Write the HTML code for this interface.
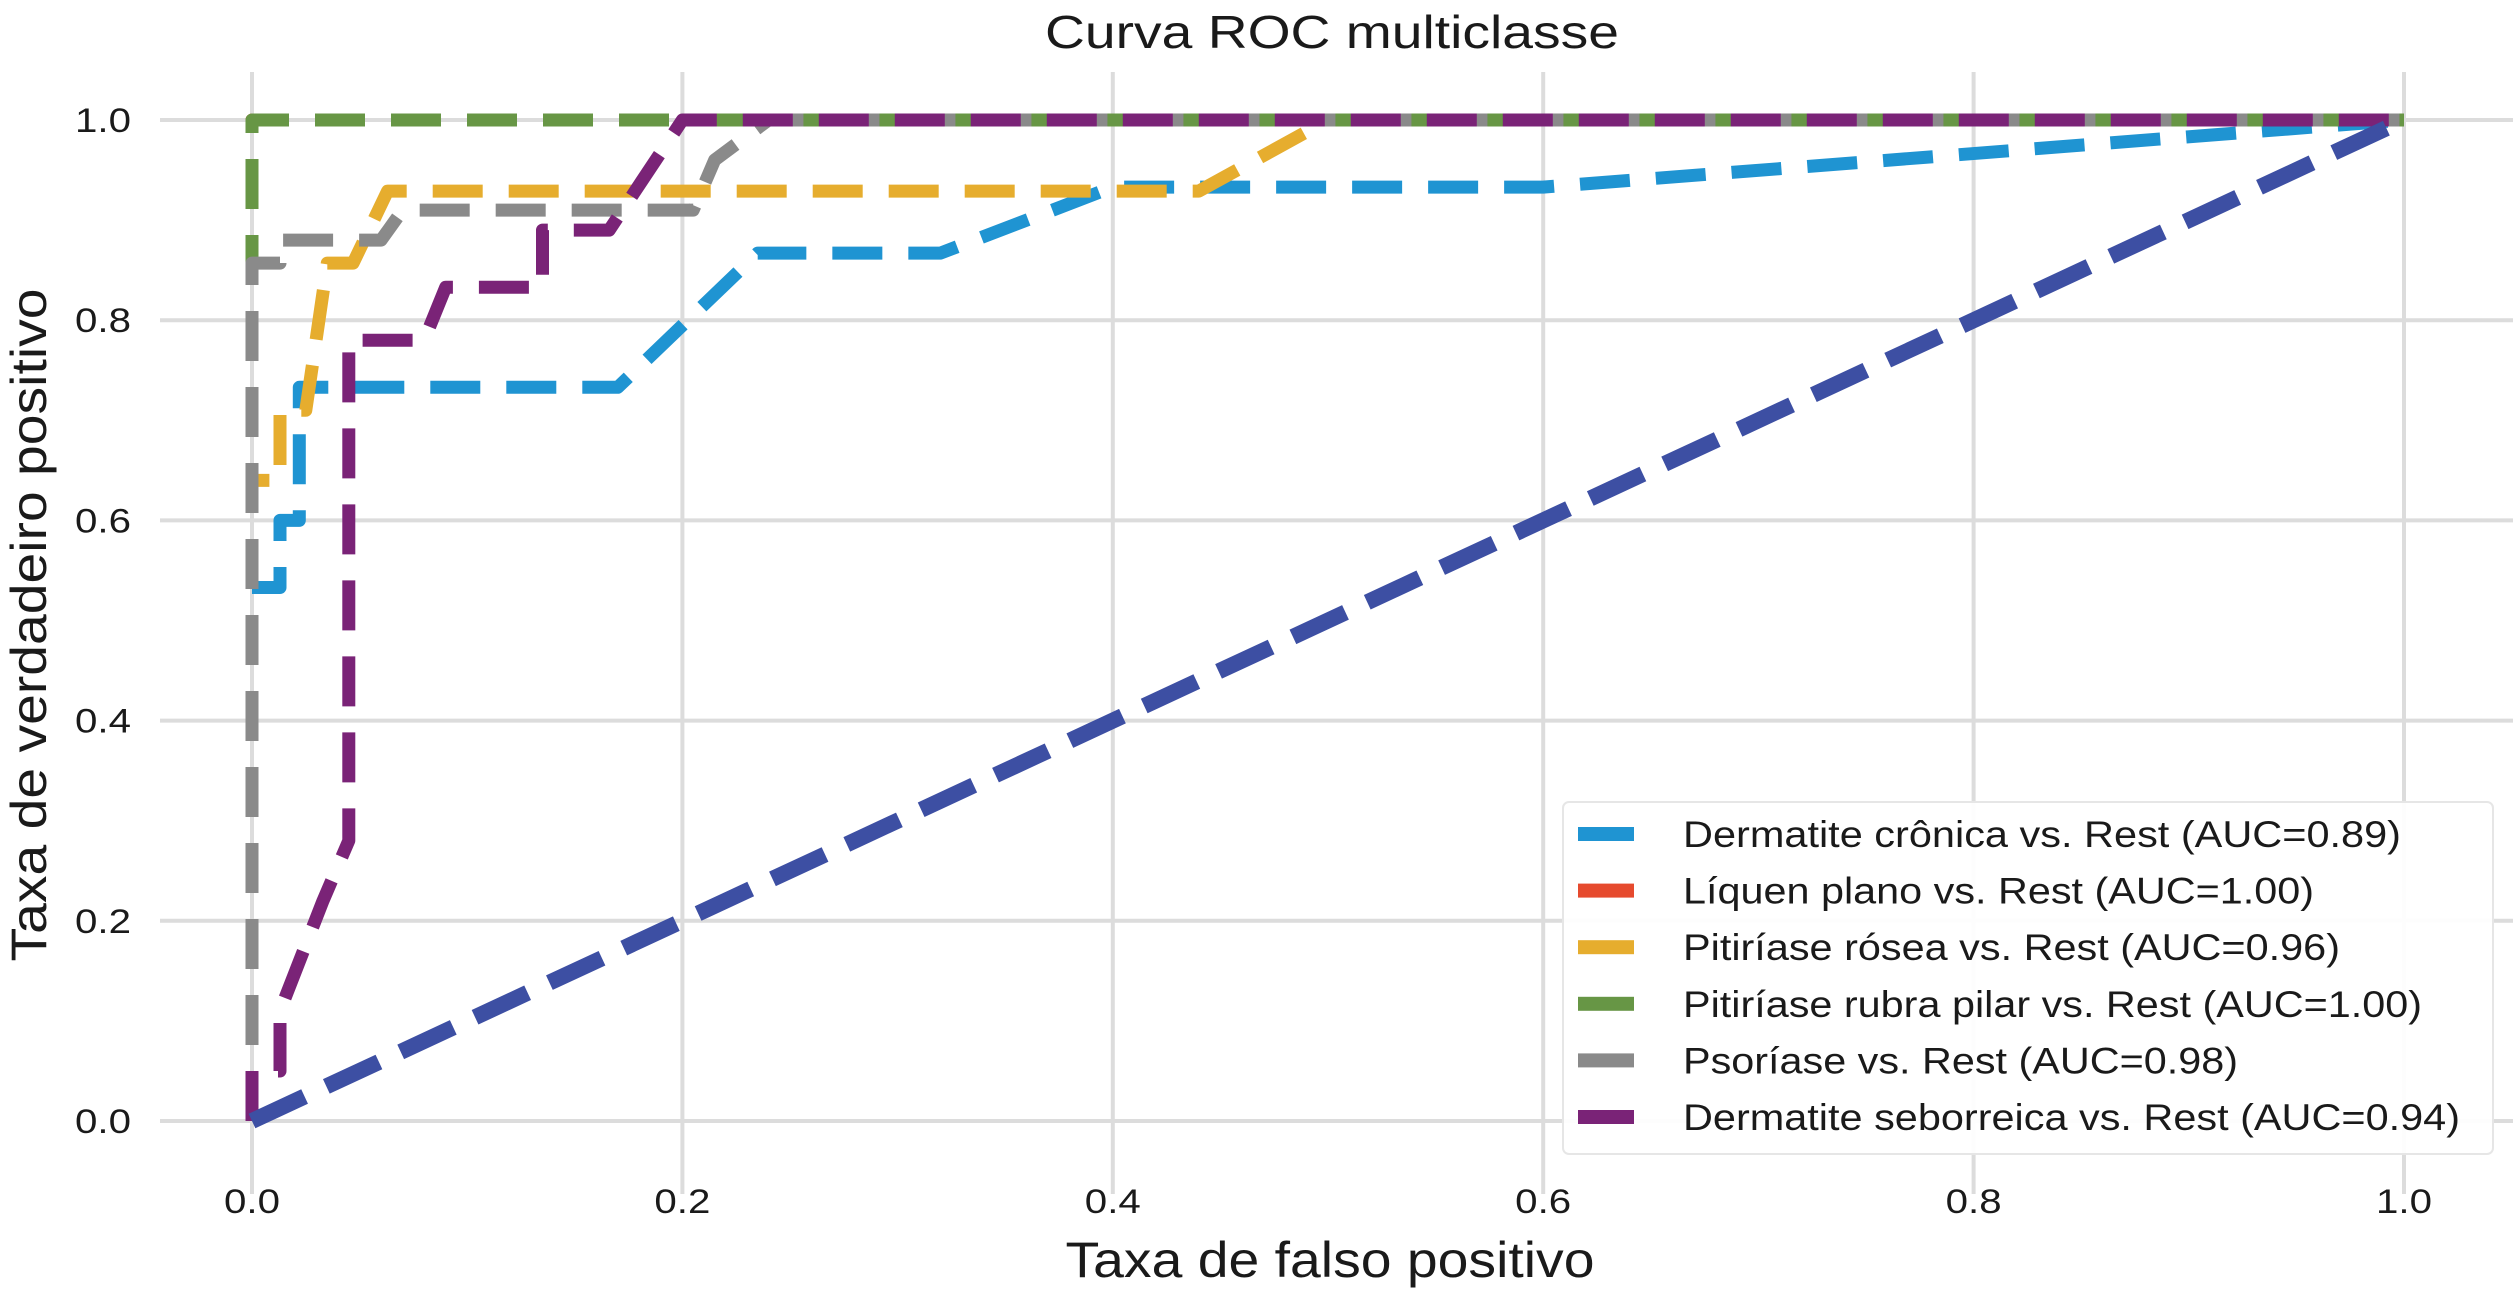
<!DOCTYPE html>
<html><head><meta charset="utf-8"><style>html,body{margin:0;padding:0;background:#fff}svg{display:block}</style></head>
<body>
<svg id="chart" width="2513" height="1304" viewBox="0 0 2513 1304" xmlns="http://www.w3.org/2000/svg" font-family="'Liberation Sans', sans-serif">
<g id="grid"></g>
<g id="ticks"></g>
<g id="series"></g>
<text x="1332" y="48" font-size="46" text-anchor="middle" textLength="574" lengthAdjust="spacingAndGlyphs" fill="#1a1a1a">Curva ROC multiclasse</text>
<text x="1330" y="1277" font-size="50" text-anchor="middle" textLength="529" lengthAdjust="spacingAndGlyphs" fill="#1a1a1a">Taxa de falso positivo</text>
<text x="0" y="0" font-size="50" text-anchor="middle" transform="translate(46,625) rotate(-90)" textLength="673" lengthAdjust="spacingAndGlyphs" fill="#1a1a1a">Taxa de verdadeiro positivo</text>
<g id="legend"></g>
</svg>
<script>
const ticks = [0, 0.2, 0.4, 0.6, 0.8, 1.0];
const tickLabels = ["0.0", "0.2", "0.4", "0.6", "0.8", "1.0"];
const seriesNames = ["Dermatite crônica vs. Rest (AUC=0.89)", "Líquen plano vs. Rest (AUC=1.00)", "Pitiríase rósea vs. Rest (AUC=0.96)", "Pitiríase rubra pilar vs. Rest (AUC=1.00)", "Psoríase vs. Rest (AUC=0.98)", "Dermatite seborreica vs. Rest (AUC=0.94)"];
const seriesColors = ["#1f94d2", "#e64a2e", "#e6ad2e", "#679645", "#8a8a8a", "#7a2377"];
const fprDerm = [0, 0, 0.013, 0.013, 0.022, 0.022, 0.17, 0.235, 0.32, 0.4, 0.6, 1];
const tprDerm = [0, 0.533, 0.533, 0.6, 0.6, 0.733, 0.733, 0.867, 0.867, 0.933, 0.933, 1];
const fprLiq = [0, 0, 1];
const tprLiq = [0, 1, 1];
const fprRos = [0, 0, 0.013, 0.013, 0.025, 0.035, 0.047, 0.063, 0.44, 0.5, 1];
const tprRos = [0, 0.64, 0.64, 0.71, 0.71, 0.857, 0.857, 0.929, 0.929, 1, 1];
const fprRub = [0, 0, 1];
const tprRub = [0, 1, 1];
const fprPso = [0, 0, 0.013, 0.013, 0.06, 0.07, 0.205, 0.215, 0.24, 1];
const tprPso = [0, 0.857, 0.857, 0.88, 0.88, 0.91, 0.91, 0.96, 1, 1];
const fprSeb = [0, 0, 0.013, 0.013, 0.033, 0.045, 0.045, 0.08, 0.09, 0.135, 0.135, 0.166, 0.2, 1];
const tprSeb = [0, 0.05, 0.05, 0.11, 0.22, 0.28, 0.78, 0.78, 0.833, 0.833, 0.89, 0.89, 1, 1];
const diagX = [0, 1];
const diagY = [0, 1];
const legendWidths = [718, 631, 657, 739, 555, 777];

const NS = "http://www.w3.org/2000/svg";
const X0 = 252, X1 = 2404, Y0 = 1121, Y1 = 120;
function sx(v){ return X0 + v*(X1-X0); }
function sy(v){ return Y0 - v*(Y0-Y1); }
function mk(tag, attrs, parent){ const e=document.createElementNS(NS,tag); for(const k in attrs) e.setAttribute(k,attrs[k]); parent.appendChild(e); return e; }

const grid = document.getElementById('grid');
const tk = document.getElementById('ticks');
ticks.forEach((t,i)=>{
  const v = mk('line',{x1:sx(t),x2:sx(t),y1:72,y2:1194,stroke:'#dcdcdc','stroke-width':4},grid);
  
  
  const h = mk('line',{x1:160,x2:2513,y1:sy(t),y2:sy(t),stroke:'#dcdcdc','stroke-width':4},grid);
  
  
  const xl = mk('text',{x:sx(t),y:1213,'font-size':34,'text-anchor':'middle',fill:'#1a1a1a',textLength:56,lengthAdjust:'spacingAndGlyphs'},tk);
  xl.textContent = tickLabels[i];
  
  
  const yl = mk('text',{x:131,y:sy(t)+12,'font-size':34,'text-anchor':'end',fill:'#1a1a1a',textLength:56,lengthAdjust:'spacingAndGlyphs'},tk);
  yl.textContent = tickLabels[i];
  
  
});

const ser = document.getElementById('series');
const allX = [fprDerm, fprLiq, fprRos, fprRub, fprPso, fprSeb];
const allY = [tprDerm, tprLiq, tprRos, tprRub, tprPso, tprSeb];
const snames = ['roc-dermatite-cronica','roc-liquen-plano','roc-pitiriase-rosea','roc-pitiriase-rubra-pilar','roc-psoriase','roc-dermatite-seborreica'];
function pathOf(xs,ys){ return xs.map((x,i)=>(i?'L':'M')+sx(x).toFixed(1)+' '+sy(ys[i]).toFixed(1)).join(' '); }
allX.forEach((xs,i)=>{
  const p = mk('path',{d:pathOf(xs,allY[i]),fill:'none',stroke:seriesColors[i],'stroke-width':13,'stroke-dasharray':'50 26','stroke-linejoin':'round'},ser);
  
  
});
const dg = mk('path',{d:pathOf(diagX,diagY),fill:'none',stroke:'#3d4fa3','stroke-width':16,'stroke-dasharray':'58 24'},ser);



const lg = document.getElementById('legend');
const box = mk('rect',{x:1563,y:802,width:930,height:352,rx:6,fill:'#fff','fill-opacity':0.92,stroke:'#e6e6e6','stroke-width':2},lg);


seriesNames.forEach((n,i)=>{
  const cy = 834 + i*56.6;
  const g = mk('g',{},lg);
  
  
  const sw = mk('rect',{x:1578,y:cy-7,width:56,height:14,fill:seriesColors[i]},g);
  
  
  const t = mk('text',{x:1683,y:cy+13,'font-size':37,fill:'#1a1a1a',textLength:legendWidths[i],lengthAdjust:'spacingAndGlyphs'},g);
  t.textContent = n;
  
  
});
</script>
</body></html>
